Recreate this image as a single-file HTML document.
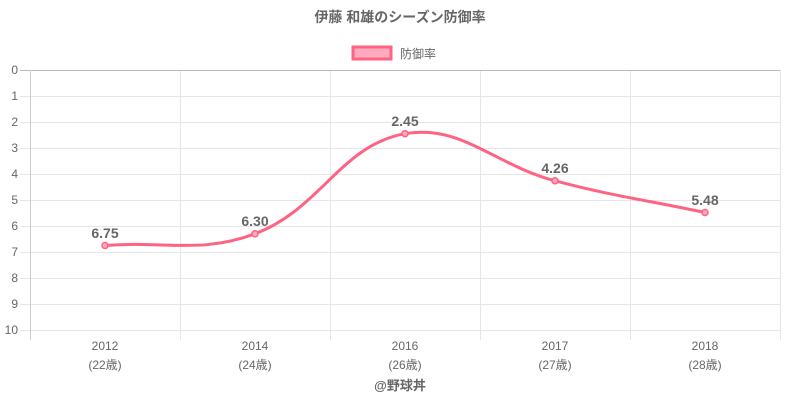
<!DOCTYPE html>
<html><head><meta charset="utf-8"><style>
body{margin:0;background:#fff;}
svg{display:block;font-family:"Liberation Sans","Noto Sans CJK JP",sans-serif;}
</style></head><body>
<svg width="800" height="400" viewBox="0 0 800 400" xmlns="http://www.w3.org/2000/svg">
<rect width="800" height="400" fill="#fff"/>
<text x="400" y="22" text-anchor="middle" font-size="14" font-weight="bold" fill="#666">伊藤 和雄のシーズン防御率</text>
<rect x="353" y="47" width="38" height="12" fill="#ffabbd" stroke="#ff6384" stroke-width="3"/>
<text x="400" y="58" font-size="12" fill="#666">防御率</text>
<g stroke="#e6e6e6" stroke-width="1">
<line x1="30" y1="96.5" x2="780" y2="96.5"/><line x1="30" y1="122.5" x2="780" y2="122.5"/>
<line x1="30" y1="148.5" x2="780" y2="148.5"/><line x1="30" y1="174.5" x2="780" y2="174.5"/>
<line x1="30" y1="200.5" x2="780" y2="200.5"/><line x1="30" y1="226.5" x2="780" y2="226.5"/>
<line x1="30" y1="252.5" x2="780" y2="252.5"/><line x1="30" y1="278.5" x2="780" y2="278.5"/>
<line x1="30" y1="304.5" x2="780" y2="304.5"/><line x1="30" y1="330.5" x2="780" y2="330.5"/>
<line x1="180.5" y1="70" x2="180.5" y2="340"/><line x1="330.5" y1="70" x2="330.5" y2="340"/>
<line x1="480.5" y1="70" x2="480.5" y2="340"/><line x1="630.5" y1="70" x2="630.5" y2="340"/>
<line x1="780.5" y1="70" x2="780.5" y2="340"/>
<line x1="20" y1="96.5" x2="30" y2="96.5"/><line x1="20" y1="122.5" x2="30" y2="122.5"/>
<line x1="20" y1="148.5" x2="30" y2="148.5"/><line x1="20" y1="174.5" x2="30" y2="174.5"/>
<line x1="20" y1="200.5" x2="30" y2="200.5"/><line x1="20" y1="226.5" x2="30" y2="226.5"/>
<line x1="20" y1="252.5" x2="30" y2="252.5"/><line x1="20" y1="278.5" x2="30" y2="278.5"/>
<line x1="20" y1="304.5" x2="30" y2="304.5"/><line x1="20" y1="330.5" x2="30" y2="330.5"/>
</g>
<line x1="20" y1="70.5" x2="780" y2="70.5" stroke="#bbb"/>
<line x1="30.5" y1="70" x2="30.5" y2="340" stroke="#ccc"/>
<g font-size="12" fill="#666" text-anchor="end">
<text x="18" y="74">0</text><text x="18" y="100">1</text><text x="18" y="126">2</text>
<text x="18" y="152">3</text><text x="18" y="178">4</text><text x="18" y="204">5</text>
<text x="18" y="230">6</text><text x="18" y="256">7</text><text x="18" y="282">8</text>
<text x="18" y="308">9</text><text x="18" y="334">10</text>
</g>
<g font-size="12" fill="#666" text-anchor="middle">
<text x="105" y="350">2012</text><text x="105" y="369">(22歳)</text>
<text x="255" y="350">2014</text><text x="255" y="369">(24歳)</text>
<text x="405" y="350">2016</text><text x="405" y="369">(26歳)</text>
<text x="555" y="350">2017</text><text x="555" y="369">(27歳)</text>
<text x="705" y="350">2018</text><text x="705" y="369">(28歳)</text>
</g>
<path d="M105,245.5 C165,240.8 200.4,254.1 255,233.8 C320.4,209.4 340.9,145 405,133.7 C460.9,123.8 494.3,164.8 555,180.8 C614.3,196.4 645,199.8 705,212.5" fill="none" stroke="#ff6384" stroke-width="3"/>
<g fill="#ffabbd" stroke="#ff6384" stroke-width="1.5">
<circle cx="105" cy="245.5" r="3"/><circle cx="255" cy="233.8" r="3"/>
<circle cx="405" cy="133.7" r="3"/><circle cx="555" cy="180.8" r="3"/>
<circle cx="705" cy="212.5" r="3"/>
</g>
<g font-size="14" font-weight="bold" fill="#666" text-anchor="middle">
<text x="105" y="238">6.75</text><text x="255" y="226">6.30</text>
<text x="405" y="126">2.45</text><text x="555" y="173">4.26</text>
<text x="705" y="205">5.48</text>
</g>
<text x="400" y="390" text-anchor="middle" font-size="13" font-weight="bold" fill="#666">@野球丼</text>
</svg>
</body></html>
